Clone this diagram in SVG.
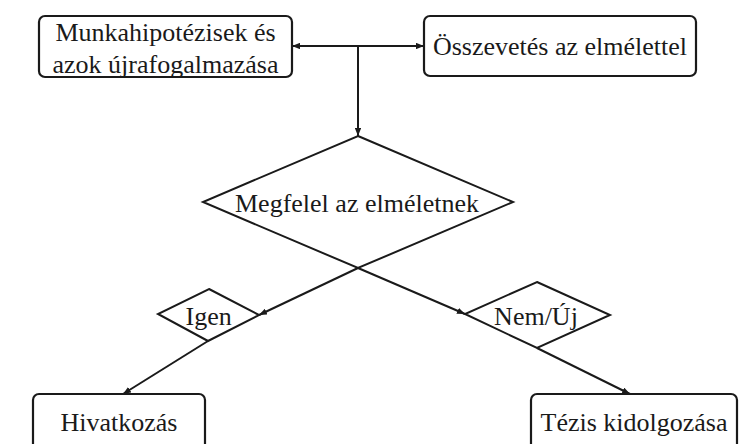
<svg xmlns="http://www.w3.org/2000/svg" width="747" height="444" viewBox="0 0 747 444">
<defs>
<marker id="ah" viewBox="0 0 10 8" refX="10" refY="4" markerWidth="8" markerHeight="6.4" markerUnits="userSpaceOnUse" orient="auto-start-reverse">
<path d="M0,0 L10,4 L0,8 Z" fill="#1a1a1a"/>
</marker>
</defs>
<style>
.box{fill:#fff;stroke:#1a1a1a;stroke-width:2.2}
.dia{fill:none;stroke:#1a1a1a;stroke-width:2}
.t{font-size:26px;fill:#1a1a1a;text-anchor:middle}
.c{fill:none;stroke:#1a1a1a;stroke-width:2}
</style>
<rect width="747" height="444" fill="#fff"/>
<g id="connectors">
<line class="c" x1="292" y1="46" x2="424" y2="46" marker-start="url(#ah)" marker-end="url(#ah)"/>
<line class="c" x1="358" y1="46" x2="358" y2="136" marker-end="url(#ah)"/>
<line class="c" x1="358" y1="268" x2="259" y2="315" marker-end="url(#ah)"/>
<line class="c" x1="358" y1="268" x2="465" y2="314" marker-end="url(#ah)"/>
<line class="c" x1="208" y1="341" x2="123" y2="394" marker-end="url(#ah)"/>
<line class="c" x1="537" y1="348" x2="630" y2="394" marker-end="url(#ah)"/>
</g>
<g font-family="'Liberation Serif', 'Times New Roman', Times, 'DejaVu Serif', serif">
<g id="munkahipotezisek">
<rect class="box" x="39" y="16" width="253" height="61" rx="6"/>
<text class="t" x="165.5" y="40.5">Munkahipotézisek és</text>
<text class="t" x="165.5" y="72.5">azok újrafogalmazása</text>
</g>
<g id="osszevetes">
<rect class="box" x="424" y="16" width="272" height="60" rx="6"/>
<text class="t" x="560" y="55">Összevetés az elmélettel</text>
</g>
<g id="megfelel">
<polygon class="dia" points="358,136 513,202 358,268 203,202"/>
<text class="t" x="357" y="211.5">Megfelel az elméletnek</text>
</g>
<g id="igen">
<polygon class="dia" points="209,289 259,315 208,341 158,314"/>
<text class="t" x="208.7" y="325">Igen</text>
</g>
<g id="nemuj">
<polygon class="dia" points="537,282 610,315 537,348 465,314"/>
<text class="t" x="536" y="325">Nem/Új</text>
</g>
<g id="hivatkozas">
<rect class="box" x="33" y="394" width="172" height="70" rx="6"/>
<text class="t" x="119" y="431">Hivatkozás</text>
</g>
<g id="tezis">
<rect class="box" x="531" y="394" width="206" height="70" rx="6"/>
<text class="t" x="634" y="431">Tézis kidolgozása</text>
</g>
</g>
</svg>
